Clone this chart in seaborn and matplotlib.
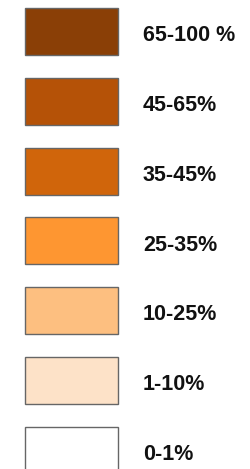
import matplotlib
matplotlib.use("Agg")
import matplotlib.pyplot as plt
import seaborn as sns
import pandas as pd

# legend classes, top to bottom
classes = ["65-100 %", "45-65%", "35-45%", "25-35%", "10-25%", "1-10%", "0-1%"]
colors = ["#8a3f06", "#b55207", "#d0650b", "#fe9631", "#fdbf80", "#fde2c8", "#ffffff"]
box_len = [1, 1, 1, 1, 1, 1, 1]

sns.set_theme(style="white")
plt.rcParams["font.family"] = ["Liberation Sans", "DejaVu Sans"]

df = pd.DataFrame({"cls": classes, "len": box_len})

fig = plt.figure(figsize=(2.51, 4.69), dpi=100)
ax = fig.add_axes([0, 0, 1, 1])

sns.barplot(data=df, x="len", y="cls", hue="cls", palette=dict(zip(classes, colors)),
            order=classes, legend=False, width=0.673, orient="h", saturation=1,
            edgecolor="#666666", linewidth=1.0, ax=ax)

for i, label in enumerate(classes):
    ax.text(1.269, i + 0.06, label, fontsize=15.5, fontweight="bold",
            color="#111111", va="center", ha="left")

ax.set_xlim(-0.269, 2.430)
ax.set_ylim(6.268, -0.451)
ax.axis("off")

fig.savefig("out.png", dpi=100, facecolor="white")
